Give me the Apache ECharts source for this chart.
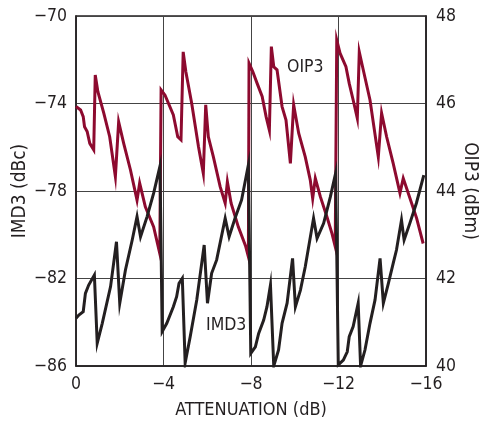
<!DOCTYPE html>
<html>
<head>
<meta charset="utf-8">
<script src="https://cdn.jsdelivr.net/npm/echarts@6/dist/echarts.min.js"></script>
<style>
html,body{margin:0;padding:0;background:#fff;}
#c{width:479px;height:422px;}
</style>
</head>
<body>
<div id="c"></div>
<script>
// Attenuation (dB) and OIP3 (dBm)
const oip3Atten = [0,-0.21,-0.33,-0.39,-0.51,-0.63,-0.81,-0.88,-1.0,-1.27,-1.54,-1.80,-1.95,-2.18,-2.49,-2.79,-2.91,-3.17,-3.55,-3.83,
  -3.89,-4.07,-4.45,-4.65,-4.80,-4.90,-5.02,-5.29,-5.60,-5.82,-5.93,-6.05,-6.28,-6.59,-6.82,-6.92,-7.09,-7.42,-7.76,-7.88,
  -7.91,-8.08,-8.28,-8.51,-8.69,-8.84,-8.93,-9.04,-9.19,-9.42,-9.60,-9.80,-9.95,-10.18,-10.48,-10.71,-10.82,-10.94,-11.17,-11.47,-11.70,-11.85,
  -11.92,-12.07,-12.34,-12.49,-12.67,-12.86,-12.95,-13.10,-13.44,-13.82,-13.97,-14.20,-14.50,-14.81,-14.96,-15.19,-15.57,-15.87];
const oip3Values = [45.93,45.85,45.70,45.47,45.36,45.09,44.94,46.65,46.27,45.78,45.24,44.33,45.58,45.09,44.48,43.79,44.18,43.64,43.18,42.57,
  46.31,46.19,45.74,45.24,45.17,47.18,46.73,46.00,45.01,44.40,45.97,45.24,44.78,44.10,43.72,44.21,43.72,43.18,42.73,42.50,
  46.92,46.73,46.46,46.16,45.70,45.39,47.30,46.84,46.77,45.93,45.62,44.63,45.97,45.32,44.78,44.25,43.83,44.29,43.87,43.41,43.03,42.73,
  47.45,47.15,46.84,46.46,46.08,45.66,47.18,46.84,46.08,44.78,45.78,45.24,44.63,43.95,44.29,43.95,43.38,42.80];

// Attenuation (dB) and IMD3 (dBc)
const imd3Atten = [0,-0.13,-0.33,-0.43,-0.58,-0.84,-0.97,-1.20,-1.58,-1.85,-2.00,-2.26,-2.57,-2.79,-2.95,-3.25,-3.55,-3.84,
  -3.94,-4.15,-4.45,-4.60,-4.71,-4.86,-4.99,-5.22,-5.52,-5.86,-6.01,-6.20,-6.43,-6.82,-7.00,-7.27,-7.57,-7.88,
  -7.99,-8.20,-8.35,-8.58,-8.73,-8.89,-9.04,-9.26,-9.42,-9.65,-9.90,-10.03,-10.26,-10.48,-10.86,-11.02,-11.32,-11.63,-11.87,
  -11.99,-12.22,-12.40,-12.49,-12.67,-12.90,-13.01,-13.21,-13.44,-13.67,-13.90,-14.05,-14.28,-14.50,-14.65,-14.88,-15.00,-15.26,-15.56,-15.90];
const imd3Values = [-83.82,-83.67,-83.52,-82.68,-82.30,-81.84,-84.96,-84.05,-82.37,-80.32,-83.13,-81.61,-80.24,-79.17,-80.09,-79.17,-78.10,-76.86,
  -84.43,-84.05,-83.29,-82.83,-82.22,-81.99,-85.86,-84.66,-82.98,-80.47,-83.13,-81.76,-81.15,-79.25,-80.09,-79.25,-78.41,-76.81,
  -85.42,-85.12,-84.51,-83.90,-83.29,-82.30,-86.00,-85.27,-84.05,-83.13,-81.08,-83.29,-82.53,-81.46,-79.25,-80.16,-79.48,-78.26,-77.18,
  -85.95,-85.73,-85.35,-84.66,-84.20,-83.13,-86.00,-85.27,-84.05,-82.98,-81.08,-83.13,-82.22,-81.31,-80.70,-79.33,-80.24,-79.48,-78.56,-77.27];

const xTicks = [0,-4,-8,-12,-16];
const imd3Ticks = [-86,-82,-78,-74,-70];
const oip3Ticks = [40,42,44,46,48];

const FONT = "'Liberation Sans Narrow','DejaVu Sans Condensed','Roboto Condensed',sans-serif";
const TXT = '#231f20';
const FS = 17.5;
const FSN = 19;
const fmtNeg = v => v < 0 ? '\u2212' + Math.abs(v) : String(v);

const chart = echarts.init(document.getElementById('c'), null, {renderer:'canvas'});
chart.setOption({
  animation:false,
  backgroundColor:'#fff',
  textStyle:{fontFamily:FONT, color:TXT},
  grid:{left:76, top:16, width:350, height:350, containLabel:false, outerBoundsMode:'none',
        show:true, borderColor:'#231f20', borderWidth:1.5, backgroundColor:'transparent'},
  xAxis:{
    type:'value', min:-16, max:0, interval:4, inverse:true,
    name:'ATTENUATION (dB)', nameLocation:'middle', nameGap:35, nameMoveOverlap:false,
    nameTextStyle:{fontFamily:FONT, fontSize:18, color:TXT},
    axisLine:{show:true, lineStyle:{color:'#231f20', width:1.5}},
    axisTick:{show:false},
    axisLabel:{fontFamily:FONT, fontSize:FS, color:TXT, margin:9, formatter:fmtNeg, customValues:xTicks},
    splitLine:{show:true, lineStyle:{color:'#444', width:1}}
  },
  yAxis:[{
    type:'value', min:-86, max:-70, interval:4, position:'left',
    name:'IMD3 (dBc)', nameLocation:'middle', nameGap:46, nameRotate:90, nameMoveOverlap:false,
    nameTextStyle:{fontFamily:FONT, fontSize:FSN, color:TXT},
    axisLine:{show:true, lineStyle:{color:'#231f20', width:1.5}},
    axisTick:{show:false},
    axisLabel:{fontFamily:FONT, fontSize:FS, color:TXT, margin:9, formatter:fmtNeg, customValues:imd3Ticks},
    splitLine:{show:true, lineStyle:{color:'#444', width:1}}
  },{
    type:'value', min:40, max:48, interval:2, position:'right',
    name:'OIP3 (dBm)', nameLocation:'middle', nameGap:34, nameRotate:-90, nameMoveOverlap:false,
    nameTextStyle:{fontFamily:FONT, fontSize:FSN, color:TXT},
    axisLine:{show:true, lineStyle:{color:'#231f20', width:1.5}},
    axisTick:{show:false},
    axisLabel:{fontFamily:FONT, fontSize:FS, color:TXT, margin:10, customValues:oip3Ticks},
    splitLine:{show:false}
  }],
  series:[{
    name:'OIP3', type:'line', yAxisIndex:1, showSymbol:false, symbol:'none',
    lineStyle:{color:'#8d0a2f', width:3, join:'miter'},
    data: oip3Atten.map((x,i)=>[x, oip3Values[i]]),
    z:3
  },{
    name:'IMD3', type:'line', yAxisIndex:0, showSymbol:false, symbol:'none',
    lineStyle:{color:'#231f20', width:3, join:'miter'},
    data: imd3Atten.map((x,i)=>[x, imd3Values[i]]),
    z:4
  }],
  graphic:[
    {type:'text', left:287, top:58, style:{text:'OIP3', font:FS + "px " + FONT, fill:TXT}},
    {type:'text', left:206, top:316, style:{text:'IMD3', font:FS + "px " + FONT, fill:TXT}}
  ]
});
</script>
</body>
</html>
